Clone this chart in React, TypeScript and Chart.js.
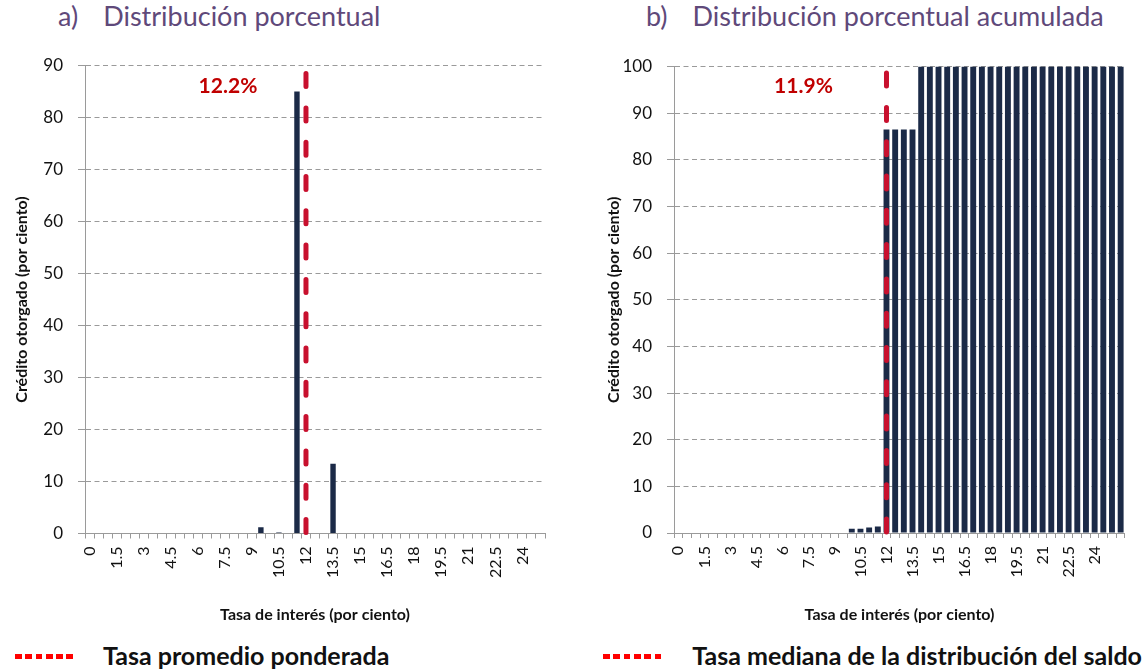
import React, { useEffect, useRef } from 'react';
import { Chart, registerables } from 'chart.js';

Chart.register(...registerables);

const FONT = 'Lato';

// Categories (interest rate, per cent)
const categoriesA = [
  '0', '0.5', '1', '1.5', '2', '2.5', '3', '3.5', '4', '4.5',
  '5', '5.5', '6', '6.5', '7', '7.5', '8', '8.5', '9', '9.5',
  '10', '10.5', '11', '11.5', '12', '12.5', '13', '13.5', '14', '14.5',
  '15', '15.5', '16', '16.5', '17', '17.5', '18', '18.5', '19', '19.5',
  '20', '20.5', '21', '21.5', '22', '22.5', '23', '23.5', '24', '24.5',
  '25',
];
const categoriesB = [
  '0', '0.5', '1', '1.5', '2', '2.5', '3', '3.5', '4', '4.5',
  '5', '5.5', '6', '6.5', '7', '7.5', '8', '8.5', '9', '9.5',
  '10', '10.5', '11', '11.5', '12', '12.5', '13', '13.5', '14', '14.5',
  '15', '15.5', '16', '16.5', '17', '17.5', '18', '18.5', '19', '19.5',
  '20', '20.5', '21', '21.5', '22', '22.5', '23', '23.5', '24', '24.5',
  '25', '25.5',
];

// Visible tick labels
const shownTicks = ['0', '1.5', '3', '4.5', '6', '7.5', '9', '10.5', '12', '13.5', '15', '16.5', '18', '19.5', '21', '22.5', '24'];

// a) Percentage distribution
const valuesA = [
  0, 0, 0, 0, 0, 0, 0, 0, 0, 0,
  0, 0, 0, 0, 0, 0, 0, 0, 0, 1.2,
  0, 0.2, 0, 85, 0, 0, 0, 13.4, 0, 0,
  0, 0, 0, 0, 0, 0, 0, 0, 0, 0,
  0, 0, 0, 0, 0, 0, 0, 0, 0, 0,
  0,
];

// b) Cumulative percentage distribution
const valuesB = [
  0, 0, 0, 0, 0, 0, 0, 0, 0, 0,
  0, 0, 0, 0, 0, 0, 0, 0, 0, 0,
  0.9, 0.9, 1.2, 1.4, 86.5, 86.5, 86.5, 86.5, 100, 100,
  100, 100, 100, 100, 100, 100, 100, 100, 100, 100,
  100, 100, 100, 100, 100, 100, 100, 100, 100, 100,
  100, 100,
];

const yTicksA = [0, 10, 20, 30, 40, 50, 60, 70, 80, 90];
const yTicksB = [0, 10, 20, 30, 40, 50, 60, 70, 80, 90, 100];

const markerA = { category: '12', text: '12.2%' };
const markerB = { category: '12', text: '11.9%' };

const BAR_COLOR = '#1B2A47';
const GRID = '#9A9A9A';
const LINE_RED = '#C8102E';
const TEXT_RED = '#C00000';

const markerPlugin = {
  id: 'marker',
  afterDatasetsDraw(chart: any, _args: any, opts: any) {
    const { ctx, chartArea, scales } = chart;
    const x = scales.x;
    const idx = chart.data.labels.indexOf(opts.category);
    const px = x.getPixelForValue(idx);
    ctx.save();
    ctx.strokeStyle = LINE_RED;
    ctx.lineWidth = 5;
    ctx.lineCap = 'round';
    ctx.setLineDash([13, 21.3]);
    ctx.beginPath();
    ctx.moveTo(px, chartArea.bottom - 1);
    ctx.lineTo(px, chartArea.top + 4);
    ctx.stroke();
    ctx.setLineDash([]);
    ctx.font = `bold 21px ${FONT}`;
    ctx.fillStyle = TEXT_RED;
    ctx.textAlign = 'center';
    ctx.textBaseline = 'middle';
    ctx.fillText(opts.text, px + opts.dx, chartArea.top + opts.dy);
    ctx.restore();
  },
};

type Props = {
  labels: string[];
  values: number[];
  yTicks: number[];
  marker: { category: string; text: string };
  left: number;
  yAxisWidth: number;
  padRight: number;
  padTop: number;
  padBottom: number;
  yTitlePad: number;
  yTickPad: number;
  barPct: number;
  dx: number;
  dy: number;
};

const CW = 574;
const CH = 600;

function BarChart(p: Props) {
  const ref = useRef<HTMLCanvasElement>(null);
  useEffect(() => {
    const yMax = p.yTicks[p.yTicks.length - 1];
    const chart = new Chart(ref.current as HTMLCanvasElement, {
      type: 'bar',
      data: {
        labels: p.labels,
        datasets: [
          {
            data: p.values,
            backgroundColor: BAR_COLOR,
            borderWidth: 0,
            categoryPercentage: 1,
            barPercentage: p.barPct,
          },
        ],
      },
      plugins: [markerPlugin],
      options: {
        responsive: false,
        animation: false,
        layout: { padding: { left: 0, right: p.padRight, top: p.padTop, bottom: p.padBottom } },
        plugins: {
          legend: { display: false },
          tooltip: { enabled: false },
          marker: { category: p.marker.category, text: p.marker.text, dx: p.dx, dy: p.dy },
        } as any,
        scales: {
          x: {
            offset: true,
            grid: {
              offset: true,
              drawOnChartArea: false,
              drawTicks: true,
              tickLength: 5,
              tickColor: GRID,
              color: GRID,
            },
            border: { display: true, color: GRID, width: 1 },
            ticks: {
              autoSkip: false,
              minRotation: 90,
              maxRotation: 90,
              padding: 8,
              color: '#111',
              font: { family: FONT, size: 16 },
              callback: function (this: any, _v: any, i: number) {
                const l = p.labels[i];
                return shownTicks.includes(l) ? l : '';
              },
            },
            title: {
              display: true,
              text: 'Tasa de interés (por ciento)',
              color: '#111',
              font: { family: FONT, size: 16, weight: 'bold' },
              padding: { top: 0, bottom: 9 },
            },
            afterFit(scale: any) {
              scale.height = 100;
            },
          },
          y: {
            min: 0,
            max: yMax,
            afterBuildTicks(scale: any) {
              scale.ticks = p.yTicks.map((v) => ({ value: v }));
            },
            grid: {
              color: GRID,
              lineWidth: 1,
              drawTicks: true,
              tickLength: 7,
              tickColor: GRID,
            },
            border: { display: true, color: GRID, width: 1, dash: [5, 3.5] },
            ticks: {
              padding: p.yTickPad,
              color: '#111',
              font: { family: FONT, size: 17 },
            },
            title: {
              display: true,
              text: 'Crédito otorgado (por ciento)',
              color: '#111',
              font: { family: FONT, size: 16, weight: 'bold' },
              padding: { top: p.yTitlePad, bottom: 0 },
            },
            afterFit(scale: any) {
              scale.width = p.yAxisWidth;
            },
          },
        },
      } as any,
    });
    return () => chart.destroy();
  }, []);
  return (
    <canvas
      ref={ref}
      width={CW}
      height={CH}
      style={{ position: 'absolute', left: p.left, top: 40, width: CW, height: CH }}
    />
  );
}

const titleStyle: React.CSSProperties = {
  position: 'absolute',
  top: 0,
  fontFamily: FONT,
  fontSize: 27,
  lineHeight: '32.4px',
  color: '#5F497A',
  whiteSpace: 'nowrap',
};

const legendStyle: React.CSSProperties = {
  position: 'absolute',
  top: 640,
  fontFamily: FONT,
  fontSize: 25,
  fontWeight: 'bold',
  lineHeight: '30px',
  color: '#111',
  whiteSpace: 'nowrap',
};

const dashStyle: React.CSSProperties = {
  position: 'absolute',
  top: 654,
  width: 58,
  height: 5,
  background: 'repeating-linear-gradient(90deg, #FF0000 0px, #FF0000 6.6px, transparent 6.6px, transparent 10.3px)',
};

export default function App() {
  return (
    <div style={{ position: 'absolute', left: 0, top: 0, width: 1148, height: 669, background: '#fff', overflow: 'hidden' }}>
      <div style={{ ...titleStyle, left: 58 }}>
        <span>a)</span>
        <span style={{ marginLeft: 25 }}>Distribución porcentual</span>
      </div>
      <div style={{ ...titleStyle, left: 646 }}>
        <span>b)</span>
        <span style={{ marginLeft: 25 }}>Distribución porcentual acumulada</span>
      </div>
      <BarChart
        labels={categoriesA}
        values={valuesA}
        yTicks={yTicksA}
        marker={markerA}
        left={0}
        yAxisWidth={85}
        padRight={29}
        padTop={25.5}
        padBottom={6.5}
        yTitlePad={12.4}
        yTickPad={15}
        barPct={0.6}
        dx={-78}
        dy={20.5}
      />
      <BarChart
        labels={categoriesB}
        values={valuesB}
        yTicks={yTicksB}
        marker={markerB}
        left={574}
        yAxisWidth={100}
        padRight={15}
        padTop={26.5}
        padBottom={7}
        yTitlePad={30.4}
        yTickPad={15}
        barPct={0.68}
        dx={-83}
        dy={19.5}
      />
      <div style={{ ...dashStyle, left: 15 }} />
      <div style={{ ...legendStyle, left: 103 }}>Tasa promedio ponderada</div>
      <div style={{ ...dashStyle, left: 603 }} />
      <div style={{ ...legendStyle, right: 6 }}>Tasa mediana de la distribución del saldo</div>
    </div>
  );
}
